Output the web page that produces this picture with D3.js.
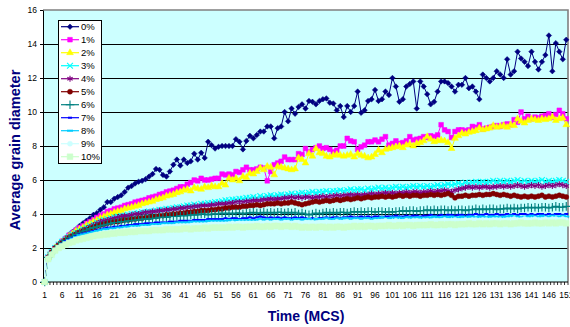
<!DOCTYPE html>
<html>
<head>
<meta charset="utf-8">
<script src="https://cdn.jsdelivr.net/npm/d3@7"></script>
<style>
body { margin: 0; background: #fff; }
text { font-family: Arial, "Liberation Sans", sans-serif; }
</style>
</head>
<body>
<div id="vis"></div>
<script>
// Time steps (MCS), one category per step
const steps = d3.range(1, 152);
const yTicks = [0, 2, 4, 6, 8, 10, 12, 14, 16];
const seriesNames = ['0%', '1%', '2%', '3%', '4%', '5%', '6%', '7%', '8%', '9%', '10%'];
const seriesColors = ['#000080', '#FF00FF', '#FFFF00', '#00FFFF', '#800080', '#800000', '#008080', '#0000FF', '#00CCFF', '#CCFFFF', '#CCFFCC'];
const seriesShapes = ['diamond', 'square', 'triangle', 'times', 'asterisk', 'circle', 'plus', 'dash', 'longdash', 'circle', 'square'];

// Average grain diameter per series
const p0 = [0, 1.45, 1.75, 2.0, 2.2, 2.4, 2.6, 2.8, 2.95, 3.1,
  3.3, 3.45, 3.6, 3.75, 3.95, 4.05, 4.25, 4.4, 4.7, 4.7,
  4.9, 5.0, 5.1, 5.3, 5.55, 5.65, 5.8, 5.9, 5.95, 6.05,
  6.2, 6.35, 6.65, 6.6, 6.3, 6.2, 6.5, 6.9, 7.2, 6.85,
  7.2, 7.0, 7.1, 7.55, 7.2, 7.6, 7.3, 8.25, 8.05, 7.85,
  7.95, 8.0, 8.0, 8.0, 8.0, 8.4, 8.25, 7.8, 8.3, 8.6,
  8.45, 8.65, 8.85, 8.85, 9.15, 9.15, 8.45, 9.05, 9.15, 10.0,
  9.45, 10.2, 9.9, 10.3, 10.45, 10.2, 10.65, 10.6, 10.45, 10.65,
  10.75, 10.8, 10.55, 10.5, 10.1, 10.35, 9.7, 10.35, 10.0, 10.35,
  11.2, 9.95, 10.1, 10.65, 10.75, 11.3, 10.65, 10.75, 11.2, 11.0,
  12.0, 11.5, 10.6, 10.75, 11.5, 11.65, 11.8, 10.2, 11.8, 11.5,
  11.05, 10.45, 10.6, 11.2, 11.8, 11.8, 11.7, 11.5, 11.2, 11.6,
  11.6, 12.0, 11.4, 11.5, 11.2, 10.75, 12.2, 12.0, 11.8, 12.0,
  12.4, 12.2, 12.0, 13.1, 12.2, 12.4, 13.55, 13.15, 12.95, 12.7,
  13.55, 12.95, 12.5, 12.95, 13.35, 14.5, 12.4, 14.05, 13.55, 13.1, 14.25];

const p1 = [0, 1.45, 1.75, 2.0, 2.2, 2.4, 2.55, 2.75, 2.9, 3.05,
  3.2, 3.3, 3.45, 3.55, 3.65, 3.8, 3.9, 4.0, 4.15, 4.2,
  4.3, 4.35, 4.4, 4.5, 4.55, 4.6, 4.7, 4.75, 4.8, 4.85,
  4.95, 5.0, 5.05, 5.15, 5.2, 5.3, 5.35, 5.4, 5.5, 5.6,
  5.6, 5.75, 5.85, 6.0, 5.95, 6.1, 6.0, 6.0, 6.05, 6.1,
  6.1, 6.35, 6.3, 6.35, 6.3, 6.5, 6.45, 6.6, 6.75, 6.6,
  6.6, 6.65, 6.75, 6.7, 5.95, 6.5, 6.9, 7.0, 7.1, 7.35,
  7.2, 7.2, 7.2, 7.55, 7.5, 7.85, 7.65, 7.8, 7.9, 8.0,
  7.85, 7.9, 7.8, 7.65, 7.75, 8.0, 8.0, 8.45, 8.3, 8.25,
  7.8, 7.95, 8.05, 8.25, 8.25, 8.35, 8.25, 8.4, 8.55, 8.05,
  8.15, 8.3, 8.15, 8.2, 8.3, 8.55, 8.35, 8.4, 8.45, 8.55,
  8.5, 8.6, 8.55, 8.65, 9.25, 8.95, 8.85, 8.5, 8.85, 8.95,
  8.95, 8.9, 8.95, 9.15, 9.1, 9.25, 9.0, 9.05, 9.1, 9.15,
  9.2, 9.15, 9.25, 9.3, 9.25, 9.55, 9.4, 10.0, 9.6, 9.75,
  9.6, 9.7, 9.65, 9.75, 9.8, 9.9, 9.7, 9.85, 10.1, 9.9, 9.6];

const p2 = [0, 1.45, 1.75, 2.0, 2.2, 2.35, 2.5, 2.7, 2.85, 3.0,
  3.1, 3.2, 3.35, 3.45, 3.55, 3.65, 3.75, 3.85, 3.95, 4.0,
  4.1, 4.15, 4.2, 4.3, 4.35, 4.4, 4.45, 4.5, 4.6, 4.65,
  4.7, 4.75, 4.85, 4.9, 4.95, 5.05, 5.1, 5.15, 5.25, 5.3,
  5.4, 5.45, 5.35, 5.55, 5.5, 5.45, 5.6, 5.55, 5.65, 5.6,
  5.6, 5.8, 5.7, 6.1, 6.0, 6.1, 5.95, 6.2, 6.15, 6.4,
  6.35, 6.5, 6.7, 6.6, 6.8, 6.75, 6.3, 6.8, 6.75, 6.7,
  6.65, 6.6, 6.65, 7.3, 7.2, 7.0, 7.55, 7.4, 7.85, 7.6,
  7.55, 7.4, 7.35, 7.45, 7.5, 7.45, 7.4, 7.45, 7.5, 7.35,
  7.55, 7.45, 7.4, 7.3, 7.35, 7.5, 7.75, 7.6, 7.8, 7.85,
  7.9, 7.95, 8.0, 7.9, 8.05, 8.1, 8.0, 8.15, 8.2, 8.3,
  8.55, 8.4, 8.25, 8.3, 8.35, 8.3, 8.2, 7.85, 8.45, 8.6,
  8.75, 8.7, 8.8, 8.85, 8.9, 9.05, 8.95, 9.0, 9.05, 9.2,
  9.1, 9.15, 9.2, 9.1, 9.25, 9.2, 9.6, 9.45, 9.35, 9.5,
  9.6, 9.55, 9.5, 9.6, 9.55, 9.6, 9.7, 9.5, 9.6, 9.65, 9.25];

const p3 = [0, 1.45, 1.75, 2.0, 2.2, 2.35, 2.5, 2.65, 2.8, 2.9,
  3.0, 3.1, 3.2, 3.3, 3.4, 3.5, 3.6, 3.65, 3.7, 3.75,
  3.8, 3.85, 3.9, 3.9, 3.95, 4.0, 4.0, 4.05, 4.1, 4.1,
  4.15, 4.15, 4.2, 4.25, 4.25, 4.3, 4.3, 4.35, 4.4, 4.4,
  4.45, 4.5, 4.5, 4.55, 4.5, 4.6, 4.6, 4.65, 4.65, 4.7,
  4.7, 4.75, 4.8, 4.8, 4.85, 4.85, 4.9, 4.9, 4.95, 4.95,
  5.0, 4.95, 5.05, 5.0, 5.05, 5.1, 5.05, 5.1, 5.15, 5.1,
  5.15, 5.2, 5.15, 5.2, 5.25, 5.2, 5.25, 5.3, 5.25, 5.3,
  5.3, 5.35, 5.3, 5.35, 5.35, 5.4, 5.35, 5.4, 5.45, 5.4,
  5.45, 5.45, 5.4, 5.5, 5.45, 5.5, 5.55, 5.5, 5.55, 5.5,
  5.55, 5.6, 5.55, 5.6, 5.55, 5.6, 5.65, 5.6, 5.65, 5.6,
  5.65, 5.6, 5.65, 5.7, 5.65, 5.7, 5.75, 5.7, 5.75, 5.8,
  5.75, 5.85, 5.8, 5.85, 5.9, 5.85, 5.9, 5.85, 5.9, 5.95,
  5.9, 5.95, 5.9, 5.95, 5.9, 5.95, 6.0, 5.9, 5.95, 5.9,
  5.95, 5.9, 5.95, 6.0, 5.9, 5.95, 5.9, 5.95, 6.0, 5.95, 5.9];

const p4 = [0, 1.45, 1.75, 2.0, 2.2, 2.35, 2.5, 2.65, 2.75, 2.85,
  2.95, 3.05, 3.15, 3.25, 3.35, 3.45, 3.55, 3.6, 3.65, 3.7,
  3.75, 3.8, 3.85, 3.9, 3.9, 3.95, 4.0, 4.0, 4.05, 4.1,
  4.1, 4.15, 4.15, 4.2, 4.2, 4.25, 4.25, 4.3, 4.3, 4.35,
  4.35, 4.4, 4.4, 4.45, 4.45, 4.5, 4.5, 4.5, 4.55, 4.55,
  4.6, 4.6, 4.6, 4.65, 4.65, 4.7, 4.7, 4.7, 4.75, 4.75,
  4.8, 4.8, 4.8, 4.85, 4.85, 4.9, 4.85, 4.9, 4.9, 4.95,
  4.95, 5.0, 4.95, 5.0, 4.95, 5.0, 5.0, 4.95, 5.0, 5.0,
  5.05, 5.0, 5.05, 5.05, 5.1, 5.05, 5.1, 5.1, 5.15, 5.1,
  5.15, 5.1, 5.15, 5.15, 5.2, 5.15, 5.2, 5.2, 5.25, 5.2,
  5.25, 5.2, 5.25, 5.25, 5.3, 5.25, 5.3, 5.3, 5.25, 5.3,
  5.3, 5.35, 5.3, 5.35, 5.35, 5.4, 5.35, 5.3, 5.4, 5.45,
  5.5, 5.55, 5.6, 5.55, 5.6, 5.55, 5.6, 5.6, 5.55, 5.6,
  5.6, 5.65, 5.6, 5.65, 5.6, 5.65, 5.7, 5.65, 5.6, 5.65,
  5.7, 5.65, 5.7, 5.6, 5.65, 5.7, 5.65, 5.7, 5.75, 5.7, 5.65];

const p5 = [0, 1.45, 1.75, 2.0, 2.15, 2.3, 2.45, 2.6, 2.7, 2.8,
  2.9, 3.0, 3.05, 3.15, 3.2, 3.3, 3.35, 3.4, 3.45, 3.5,
  3.55, 3.55, 3.6, 3.65, 3.65, 3.7, 3.7, 3.75, 3.75, 3.8,
  3.8, 3.85, 3.85, 3.9, 3.9, 3.95, 3.95, 4.0, 4.0, 4.05,
  4.05, 4.1, 4.1, 4.15, 4.15, 4.2, 4.2, 4.2, 4.25, 4.25,
  4.3, 4.3, 4.35, 4.35, 4.4, 4.4, 4.4, 4.45, 4.45, 4.5,
  4.5, 4.55, 4.5, 4.55, 4.6, 4.6, 4.6, 4.65, 4.6, 4.65,
  4.65, 4.7, 4.65, 4.6, 4.55, 4.6, 4.65, 4.7, 4.75, 4.7,
  4.75, 4.8, 4.75, 4.8, 4.85, 4.8, 4.85, 4.9, 4.85, 4.9,
  4.95, 4.9, 4.95, 5.0, 4.95, 5.0, 5.0, 5.05, 5.0, 5.05,
  5.0, 5.05, 5.1, 5.05, 5.1, 5.05, 5.1, 5.1, 5.05, 5.1,
  5.1, 5.15, 5.1, 5.15, 5.1, 5.15, 5.2, 5.1, 4.95, 5.05,
  5.05, 5.1, 5.05, 5.1, 5.1, 5.15, 5.1, 5.15, 5.15, 5.2,
  5.15, 5.1, 5.15, 5.1, 5.05, 5.1, 5.05, 5.0, 5.05, 5.0,
  5.05, 5.0, 5.05, 5.1, 5.0, 5.05, 5.0, 5.05, 5.1, 5.05, 5.0];

const p6 = [0, 1.45, 1.75, 1.95, 2.15, 2.3, 2.45, 2.6, 2.7, 2.8,
  2.9, 3.0, 3.05, 3.15, 3.2, 3.25, 3.3, 3.35, 3.4, 3.45,
  3.5, 3.5, 3.55, 3.55, 3.6, 3.6, 3.65, 3.65, 3.7, 3.7,
  3.7, 3.75, 3.75, 3.8, 3.8, 3.8, 3.85, 3.85, 3.85, 3.9,
  3.9, 3.9, 3.95, 3.95, 3.95, 4.0, 4.0, 3.95, 4.0, 4.0,
  4.0, 4.05, 4.0, 4.05, 4.0, 4.05, 4.05, 4.0, 4.05, 4.05,
  4.1, 4.05, 4.05, 4.1, 4.05, 4.1, 4.05, 4.1, 4.1, 4.05,
  4.1, 4.05, 4.1, 4.0, 4.05, 4.0, 3.95, 4.0, 4.05, 4.0,
  4.05, 4.1, 4.05, 4.1, 4.05, 4.1, 4.1, 4.05, 4.1, 4.15,
  4.1, 4.15, 4.1, 4.15, 4.15, 4.1, 4.15, 4.15, 4.1, 4.15,
  4.1, 4.15, 4.15, 4.2, 4.15, 4.2, 4.2, 4.15, 4.2, 4.2,
  4.25, 4.2, 4.25, 4.2, 4.25, 4.25, 4.2, 4.25, 4.2, 4.25,
  4.25, 4.2, 4.25, 4.25, 4.3, 4.25, 4.3, 4.25, 4.3, 4.3,
  4.25, 4.3, 4.3, 4.35, 4.3, 4.35, 4.3, 4.35, 4.35, 4.4,
  4.35, 4.4, 4.35, 4.4, 4.4, 4.35, 4.4, 4.45, 4.4, 4.4, 4.45];

const p7 = [0, 1.45, 1.7, 1.95, 2.1, 2.25, 2.4, 2.5, 2.6, 2.7,
  2.8, 2.85, 2.9, 2.95, 3.0, 3.05, 3.1, 3.15, 3.2, 3.2,
  3.25, 3.25, 3.3, 3.3, 3.35, 3.35, 3.4, 3.4, 3.4, 3.45,
  3.45, 3.45, 3.5, 3.5, 3.5, 3.5, 3.55, 3.55, 3.55, 3.6,
  3.6, 3.6, 3.6, 3.65, 3.65, 3.65, 3.65, 3.7, 3.7, 3.7,
  3.7, 3.7, 3.75, 3.7, 3.75, 3.75, 3.7, 3.75, 3.75, 3.8,
  3.75, 3.8, 3.85, 3.8, 3.75, 3.8, 3.75, 3.8, 3.75, 3.8,
  3.75, 3.75, 3.8, 3.75, 3.8, 3.75, 3.7, 3.75, 3.7, 3.75,
  3.75, 3.8, 3.75, 3.8, 3.8, 3.75, 3.8, 3.8, 3.85, 3.8,
  3.8, 3.85, 3.8, 3.85, 3.8, 3.85, 3.85, 3.8, 3.85, 3.85,
  3.85, 3.9, 3.85, 3.85, 3.9, 3.85, 3.9, 3.9, 3.85, 3.9,
  3.9, 3.95, 3.9, 3.9, 3.95, 3.9, 3.95, 3.95, 3.9, 3.95,
  3.95, 3.9, 3.95, 3.95, 4.0, 3.95, 3.95, 4.0, 3.95, 3.95,
  4.0, 3.95, 3.95, 4.0, 3.95, 4.0, 3.95, 4.0, 4.0, 3.95,
  4.0, 3.95, 4.0, 4.0, 3.95, 4.0, 3.95, 4.0, 4.0, 3.95, 4.0];

const p8 = [0, 1.4, 1.7, 1.9, 2.05, 2.2, 2.35, 2.45, 2.55, 2.65,
  2.75, 2.8, 2.85, 2.9, 2.95, 3.0, 3.05, 3.1, 3.1, 3.15,
  3.15, 3.2, 3.2, 3.25, 3.25, 3.3, 3.3, 3.3, 3.35, 3.35,
  3.35, 3.4, 3.4, 3.4, 3.45, 3.45, 3.45, 3.45, 3.5, 3.5,
  3.5, 3.5, 3.55, 3.55, 3.55, 3.55, 3.55, 3.6, 3.6, 3.6,
  3.6, 3.6, 3.6, 3.65, 3.6, 3.65, 3.65, 3.6, 3.65, 3.65,
  3.65, 3.65, 3.7, 3.65, 3.7, 3.65, 3.7, 3.7, 3.65, 3.7,
  3.7, 3.65, 3.7, 3.7, 3.65, 3.7, 3.7, 3.65, 3.7, 3.7,
  3.7, 3.75, 3.7, 3.7, 3.75, 3.7, 3.75, 3.75, 3.7, 3.75,
  3.75, 3.7, 3.75, 3.75, 3.7, 3.75, 3.75, 3.8, 3.75, 3.75,
  3.8, 3.75, 3.8, 3.75, 3.8, 3.8, 3.75, 3.8, 3.8, 3.75,
  3.8, 3.8, 3.85, 3.8, 3.8, 3.85, 3.8, 3.85, 3.8, 3.8,
  3.85, 3.8, 3.85, 3.85, 3.8, 3.85, 3.85, 3.8, 3.85, 3.85,
  3.85, 3.8, 3.85, 3.85, 3.9, 3.85, 3.85, 3.8, 3.85, 3.85,
  3.9, 3.85, 3.85, 3.9, 3.85, 3.85, 3.9, 3.85, 3.85, 3.9, 3.85];

const p9 = [0, 1.4, 1.65, 1.85, 2.0, 2.1, 2.2, 2.3, 2.4, 2.5,
  2.55, 2.6, 2.65, 2.7, 2.75, 2.8, 2.85, 2.9, 2.9, 2.95,
  2.95, 3.0, 3.0, 3.05, 3.05, 3.1, 3.1, 3.1, 3.15, 3.15,
  3.15, 3.2, 3.2, 3.2, 3.25, 3.25, 3.25, 3.25, 3.3, 3.3,
  3.3, 3.3, 3.3, 3.35, 3.35, 3.35, 3.35, 3.35, 3.4, 3.4,
  3.4, 3.4, 3.4, 3.4, 3.45, 3.4, 3.45, 3.45, 3.45, 3.45,
  3.45, 3.45, 3.5, 3.45, 3.5, 3.45, 3.5, 3.5, 3.45, 3.5,
  3.5, 3.45, 3.5, 3.5, 3.45, 3.5, 3.5, 3.5, 3.45, 3.5,
  3.5, 3.55, 3.5, 3.5, 3.55, 3.5, 3.5, 3.55, 3.5, 3.55,
  3.55, 3.5, 3.55, 3.55, 3.5, 3.55, 3.55, 3.55, 3.6, 3.55,
  3.55, 3.6, 3.55, 3.55, 3.6, 3.55, 3.6, 3.6, 3.55, 3.6,
  3.6, 3.55, 3.6, 3.6, 3.6, 3.65, 3.6, 3.6, 3.65, 3.6,
  3.6, 3.65, 3.6, 3.65, 3.65, 3.6, 3.65, 3.65, 3.6, 3.65,
  3.65, 3.65, 3.6, 3.65, 3.65, 3.7, 3.65, 3.65, 3.7, 3.65,
  3.65, 3.7, 3.65, 3.65, 3.7, 3.65, 3.7, 3.7, 3.65, 3.7, 3.65];

const p10 = [0, 1.35, 1.6, 1.85, 2.0, 2.1, 2.2, 2.3, 2.35, 2.45,
  2.5, 2.55, 2.6, 2.65, 2.7, 2.75, 2.75, 2.8, 2.8, 2.85,
  2.85, 2.9, 2.9, 2.9, 2.95, 2.95, 2.95, 3.0, 3.0, 3.0,
  3.0, 3.05, 3.05, 3.05, 3.05, 3.1, 3.1, 3.1, 3.1, 3.1,
  3.15, 3.15, 3.1, 3.15, 3.15, 3.15, 3.2, 3.15, 3.2, 3.2,
  3.2, 3.2, 3.2, 3.25, 3.2, 3.25, 3.25, 3.2, 3.25, 3.25,
  3.25, 3.3, 3.25, 3.25, 3.3, 3.25, 3.3, 3.3, 3.25, 3.3,
  3.3, 3.25, 3.3, 3.25, 3.2, 3.25, 3.2, 3.25, 3.2, 3.25,
  3.25, 3.2, 3.25, 3.2, 3.25, 3.25, 3.2, 3.25, 3.25, 3.3,
  3.25, 3.3, 3.25, 3.3, 3.3, 3.25, 3.3, 3.3, 3.3, 3.35,
  3.3, 3.3, 3.35, 3.3, 3.35, 3.35, 3.3, 3.35, 3.35, 3.35,
  3.35, 3.4, 3.35, 3.35, 3.4, 3.35, 3.4, 3.4, 3.35, 3.4,
  3.4, 3.4, 3.45, 3.4, 3.4, 3.45, 3.4, 3.45, 3.4, 3.45,
  3.45, 3.4, 3.45, 3.45, 3.4, 3.45, 3.45, 3.5, 3.45, 3.45,
  3.45, 3.5, 3.45, 3.45, 3.5, 3.45, 3.5, 3.45, 3.5, 3.5, 3.45];

const seriesValues = [p0, p1, p2, p3, p4, p5, p6, p7, p8, p9, p10];

// Layout
const W = 570, H = 327;
const plot = { left: 43, right: 568, top: 10, bottom: 282 };

const svg = d3.select('#vis')
    .append('svg')
    .attr('width', W)
    .attr('height', H);

const xScale = d3.scaleBand()
    .domain(steps)
    .range([plot.left, plot.right])
    .paddingInner(0).paddingOuter(0);
const xPos = d => xScale(d) + xScale.bandwidth() / 2;

const yScale = d3.scaleLinear()
    .domain([0, 16])
    .range([plot.bottom, plot.top]);

// Plot background
svg.append('rect')
    .attr('x', plot.left).attr('y', plot.top)
    .attr('width', plot.right - plot.left)
    .attr('height', plot.bottom - plot.top)
    .attr('fill', '#CCFFFF');

// Gridlines
svg.append('g')
    .selectAll('line')
    .data(yTicks.filter(d => d > 0 && d < 16))
    .join('line')
    .attr('x1', plot.left).attr('x2', plot.right)
    .attr('y1', d => yScale(d)).attr('y2', d => yScale(d))
    .attr('stroke', '#000').attr('stroke-width', 1)
    .attr('shape-rendering', 'crispEdges');

// Gray border (top / right)
svg.append('path')
    .attr('d', `M${plot.left},${plot.top}H${plot.right}V${plot.bottom}`)
    .attr('fill', 'none')
    .attr('stroke', '#808080')
    .attr('stroke-width', 1.6);

// Y axis
const yAxis = d3.axisLeft(yScale).tickValues(yTicks).tickSize(3).tickPadding(3).tickSizeOuter(0);
svg.append('g')
    .attr('transform', `translate(${plot.left},0)`)
    .call(yAxis)
    .call(g => g.selectAll('text').attr('font-size', 8.5).attr('fill', '#000').attr('font-family', 'Arial, "Liberation Sans", sans-serif'))
    .call(g => g.select('.domain').attr('stroke', '#000'));

// X axis: ticks between categories, labels every 5 steps
const xAxisG = svg.append('g').attr('class', 'x-axis');
xAxisG.append('line')
    .attr('x1', plot.left).attr('x2', plot.right)
    .attr('y1', plot.bottom).attr('y2', plot.bottom)
    .attr('stroke', '#000');
xAxisG.selectAll('.tick-mark')
    .data(steps.concat([null]))
    .join('line')
    .attr('class', 'tick-mark')
    .attr('x1', d => d === null ? plot.right : xScale(d))
    .attr('x2', d => d === null ? plot.right : xScale(d))
    .attr('y1', plot.bottom).attr('y2', plot.bottom + 3)
    .attr('stroke', '#000').attr('stroke-width', 0.8);
xAxisG.selectAll('.tick-label')
    .data(steps.filter((d, i) => i % 5 === 0))
    .join('text')
    .attr('class', 'tick-label')
    .attr('x', d => xPos(d))
    .attr('y', 298)
    .attr('text-anchor', 'middle')
    .attr('font-size', 8.5)
    .text(d => d);

// Axis titles
svg.append('text')
    .attr('transform', 'translate(20,150) rotate(-90)')
    .attr('text-anchor', 'middle')
    .attr('font-size', 14.5)
    .attr('font-weight', 'bold')
    .attr('fill', '#000080')
    .text('Average grain diameter');

svg.append('text')
    .attr('x', 306)
    .attr('y', 321)
    .attr('text-anchor', 'middle')
    .attr('font-size', 14)
    .attr('font-weight', 'bold')
    .attr('fill', '#000080')
    .text('Time (MCS)');

// Marker helper
const symbolTypes = {
    diamond: d3.symbolSquare,
    square: d3.symbolSquare,
    triangle: d3.symbolTriangle,
    circle: d3.symbolCircle,
    times: d3.symbolTimes || d3.symbolCross,
    asterisk: d3.symbolAsterisk || d3.symbolCross,
    plus: d3.symbolPlus || d3.symbolCross
};
const symbolSizes = { diamond: 15, square: 22, triangle: 20, circle: 20, times: 24, asterisk: 26, plus: 26 };

function addMarker(sel, shape, color, big) {
    if (shape === 'dash' || shape === 'longdash') {
        const w = shape === 'dash' ? 4 : 6;
        sel.append('rect')
            .attr('x', -w / 2).attr('y', -1)
            .attr('width', w).attr('height', 2)
            .attr('fill', color);
        return;
    }
    const size = symbolSizes[shape] * (big ? 1.5 : 1);
    const p = sel.append('path').attr('d', d3.symbol(symbolTypes[shape], size)());
    if (shape === 'diamond') p.attr('transform', 'rotate(45)');
    if (shape === 'times' || shape === 'asterisk' || shape === 'plus') {
        p.attr('fill', 'none').attr('stroke', color).attr('stroke-width', 1.1);
    } else {
        p.attr('fill', color).attr('stroke', color).attr('stroke-width', 0.5);
    }
}

// Series: lines and markers
const line = d3.line()
    .x((d, i) => xPos(steps[i]))
    .y(d => yScale(d));

seriesValues.forEach((vals, s) => {
    const g = svg.append('g').attr('class', 'series');
    g.append('path')
        .datum(vals)
        .attr('d', line)
        .attr('fill', 'none')
        .attr('stroke', seriesColors[s])
        .attr('stroke-width', 1);
    g.selectAll('.pt')
        .data(vals)
        .join('g')
        .attr('class', 'pt')
        .attr('transform', (d, i) => `translate(${xPos(steps[i])},${yScale(d)})`)
        .each(function () { addMarker(d3.select(this), seriesShapes[s], seriesColors[s], s === 10); });
});

// Legend
const legend = svg.append('g').attr('class', 'legend');
legend.append('rect')
    .attr('x', 58.5).attr('y', 20.5)
    .attr('width', 43).attr('height', 143)
    .attr('fill', '#fff')
    .attr('stroke', '#000').attr('stroke-width', 1);

const items = legend.selectAll('.item')
    .data(seriesNames)
    .join('g')
    .attr('class', 'item')
    .attr('transform', (d, i) => `translate(0,${26.7 + i * 13})`);
items.append('line')
    .attr('x1', 61).attr('x2', 79)
    .attr('stroke', (d, i) => seriesColors[i]).attr('stroke-width', 1.2);
items.each(function (d, i) {
    const m = d3.select(this).append('g').attr('transform', 'translate(70,0)');
    addMarker(m, seriesShapes[i], seriesColors[i], i === 10);
});
items.append('text')
    .attr('x', 81)
    .attr('dy', '0.35em')
    .attr('font-size', 9.5)
    .text(d => d);
</script>
